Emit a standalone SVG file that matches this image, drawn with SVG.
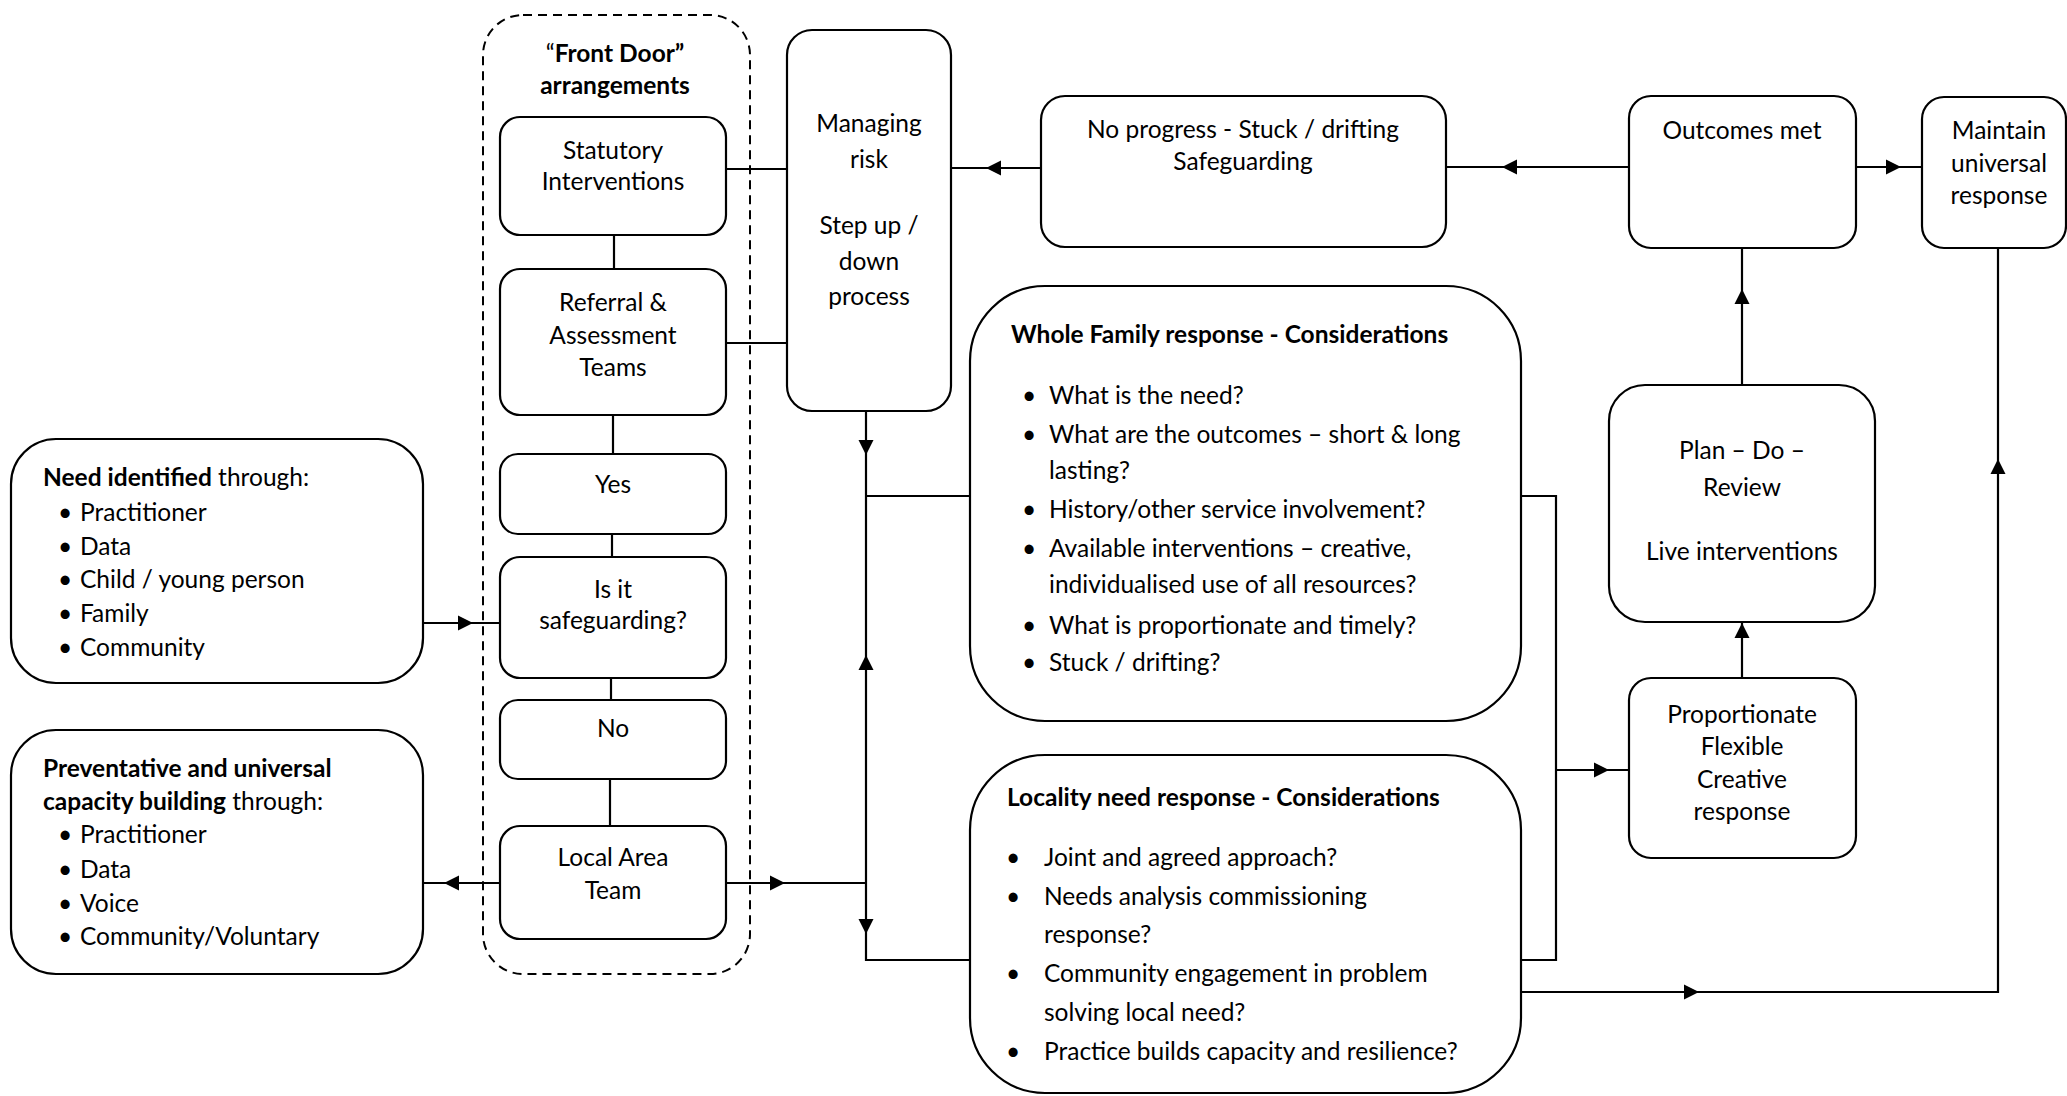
<svg xmlns="http://www.w3.org/2000/svg" xmlns:xlink="http://www.w3.org/1999/xlink" width="2067" height="1096" viewBox="0 0 2067 1096">
<style>
  .box { fill: #ffffff; stroke: #000000; stroke-width: 2.2; }
  .dash { fill: none; stroke: #000000; stroke-width: 2; stroke-dasharray: 9 6; }
  .ln { fill: none; stroke: #000000; stroke-width: 2.2; }
  text { font-family: Lato, "Open Sans", "Liberation Sans", sans-serif; font-size: 24.5px; fill: #000000; }
  .c { text-anchor: middle; }
  .b { font-weight: bold; }
  .n { font-weight: normal; }
</style>
<defs>
  <path id="ah" d="M0,0 L-15,-7.5 L-15,7.5 Z" fill="#000000"/>
</defs>
<rect width="2067" height="1096" fill="#ffffff"/>

<g id="connectors">
  <path class="ln" d="M726,169 H787"/>
  <path class="ln" d="M726,343 H787"/>
  <path class="ln" d="M614,235 V269"/>
  <path class="ln" d="M613,415 V454"/>
  <path class="ln" d="M612,534 V557"/>
  <path class="ln" d="M611,678 V700"/>
  <path class="ln" d="M610,779 V826"/>
  <path class="ln" d="M423,623 H500"/>
  <use xlink:href="#ah" transform="translate(473,623)"/>
  <path class="ln" d="M500,883 H423"/>
  <use xlink:href="#ah" transform="translate(444,883) rotate(180)"/>
  <path class="ln" d="M726,883 H866"/>
  <use xlink:href="#ah" transform="translate(785,883)"/>
  <path class="ln" d="M866,411 V960 H970"/>
  <use xlink:href="#ah" transform="translate(866,455) rotate(90)"/>
  <use xlink:href="#ah" transform="translate(866,655) rotate(-90)"/>
  <use xlink:href="#ah" transform="translate(866,934) rotate(90)"/>
  <path class="ln" d="M866,496 H970"/>
  <path class="ln" d="M1041,168 H951"/>
  <use xlink:href="#ah" transform="translate(986,168) rotate(180)"/>
  <path class="ln" d="M1629,167 H1446"/>
  <use xlink:href="#ah" transform="translate(1502,167) rotate(180)"/>
  <path class="ln" d="M1856,167 H1922"/>
  <use xlink:href="#ah" transform="translate(1901,167)"/>
  <path class="ln" d="M1521,496 H1556 V960 H1521"/>
  <path class="ln" d="M1556,770 H1629"/>
  <use xlink:href="#ah" transform="translate(1609,770)"/>
  <path class="ln" d="M1742,678 V622"/>
  <use xlink:href="#ah" transform="translate(1742,623) rotate(-90)"/>
  <path class="ln" d="M1742,385 V248"/>
  <use xlink:href="#ah" transform="translate(1742,289) rotate(-90)"/>
  <path class="ln" d="M1521,992 H1998 V248"/>
  <use xlink:href="#ah" transform="translate(1699,992)"/>
  <use xlink:href="#ah" transform="translate(1998,459) rotate(-90)"/>
</g>

<g id="front-door">
  <rect class="dash" x="483" y="15" width="267" height="959" rx="40" ry="40"/>
  <text class="c" x="615" y="62"><tspan class="n">“</tspan><tspan class="b">Front Door”</tspan></text>
  <text class="c b" x="615" y="94">arrangements</text>
</g>

<g id="statutory">
  <rect class="box" x="500" y="117" width="226" height="118" rx="20"/>
  <text class="c" x="613" y="159">Statutory</text>
  <text class="c" x="613" y="190">Interventions</text>
</g>

<g id="referral">
  <rect class="box" x="500" y="269" width="226" height="146" rx="20"/>
  <text class="c" x="613" y="311">Referral &amp;</text>
  <text class="c" x="613" y="344">Assessment</text>
  <text class="c" x="613" y="376">Teams</text>
</g>

<g id="yes">
  <rect class="box" x="500" y="454" width="226" height="80" rx="18"/>
  <text class="c" x="613" y="493">Yes</text>
</g>

<g id="is-it-safeguarding">
  <rect class="box" x="500" y="557" width="226" height="121" rx="20"/>
  <text class="c" x="613" y="598">Is it</text>
  <text class="c" x="613" y="629">safeguarding?</text>
</g>

<g id="no">
  <rect class="box" x="500" y="700" width="226" height="79" rx="18"/>
  <text class="c" x="613" y="737">No</text>
</g>

<g id="local-area-team">
  <rect class="box" x="500" y="826" width="226" height="113" rx="20"/>
  <text class="c" x="613" y="866">Local Area</text>
  <text class="c" x="613" y="899">Team</text>
</g>

<g id="managing-risk">
  <rect class="box" x="787" y="30" width="164" height="381" rx="25"/>
  <text class="c" x="869" y="132">Managing</text>
  <text class="c" x="869" y="168">risk</text>
  <text class="c" x="869" y="234">Step up /</text>
  <text class="c" x="869" y="270">down</text>
  <text class="c" x="869" y="305">process</text>
</g>

<g id="no-progress">
  <rect class="box" x="1041" y="96" width="405" height="151" rx="24"/>
  <text class="c" x="1243" y="138">No progress - Stuck / drifting</text>
  <text class="c" x="1243" y="170">Safeguarding</text>
</g>

<g id="outcomes-met">
  <rect class="box" x="1629" y="96" width="227" height="152" rx="22"/>
  <text class="c" x="1742" y="139">Outcomes met</text>
</g>

<g id="maintain-universal">
  <rect class="box" x="1922" y="97" width="144" height="151" rx="22"/>
  <text class="c" x="1999" y="139">Maintain</text>
  <text class="c" x="1999" y="172">universal</text>
  <text class="c" x="1999" y="204">response</text>
</g>

<g id="plan-do-review">
  <rect class="box" x="1609" y="385" width="266" height="237" rx="36"/>
  <text class="c" x="1742" y="459">Plan – Do –</text>
  <text class="c" x="1742" y="496">Review</text>
  <text class="c" x="1742" y="560">Live interventions</text>
</g>

<g id="proportionate">
  <rect class="box" x="1629" y="678" width="227" height="180" rx="22"/>
  <text class="c" x="1742" y="723">Proportionate</text>
  <text class="c" x="1742" y="755">Flexible</text>
  <text class="c" x="1742" y="788">Creative</text>
  <text class="c" x="1742" y="820">response</text>
</g>

<g id="need-identified">
  <rect class="box" x="11" y="439" width="412" height="244" rx="45"/>
  <text x="43" y="486"><tspan class="b">Need identified</tspan> through:</text>
  <text class="c" x="65" y="521">•</text><text x="80" y="521">Practitioner</text>
  <text class="c" x="65" y="555">•</text><text x="80" y="555">Data</text>
  <text class="c" x="65" y="588">•</text><text x="80" y="588">Child / young person</text>
  <text class="c" x="65" y="622">•</text><text x="80" y="622">Family</text>
  <text class="c" x="65" y="656">•</text><text x="80" y="656">Community</text>
</g>

<g id="preventative">
  <rect class="box" x="11" y="730" width="412" height="244" rx="45"/>
  <text class="b" x="43" y="777">Preventative and universal</text>
  <text x="43" y="810"><tspan class="b">capacity building</tspan> through:</text>
  <text class="c" x="65" y="843">•</text><text x="80" y="843">Practitioner</text>
  <text class="c" x="65" y="878">•</text><text x="80" y="878">Data</text>
  <text class="c" x="65" y="912">•</text><text x="80" y="912">Voice</text>
  <text class="c" x="65" y="945">•</text><text x="80" y="945">Community/Voluntary</text>
</g>

<g id="whole-family">
  <rect class="box" x="970" y="286" width="551" height="435" rx="75"/>
  <text class="b" x="1011" y="343">Whole Family response - Considerations</text>
  <text class="c" x="1029" y="404">•</text><text x="1049" y="404">What is the need?</text>
  <text class="c" x="1029" y="443">•</text><text x="1049" y="443">What are the outcomes – short &amp; long</text>
  <text x="1049" y="479">lasting?</text>
  <text class="c" x="1029" y="518">•</text><text x="1049" y="518">History/other service involvement?</text>
  <text class="c" x="1029" y="557">•</text><text x="1049" y="557">Available interventions – creative,</text>
  <text x="1049" y="593">individualised use of all resources?</text>
  <text class="c" x="1029" y="634">•</text><text x="1049" y="634">What is proportionate and timely?</text>
  <text class="c" x="1029" y="671">•</text><text x="1049" y="671">Stuck / drifting?</text>
</g>

<g id="locality-need">
  <rect class="box" x="970" y="755" width="551" height="338" rx="75"/>
  <text class="b" x="1007" y="806">Locality need response - Considerations</text>
  <text class="c" x="1013" y="866">•</text><text x="1044" y="866">Joint and agreed approach?</text>
  <text class="c" x="1013" y="905">•</text><text x="1044" y="905">Needs analysis commissioning</text>
  <text x="1044" y="943">response?</text>
  <text class="c" x="1013" y="982">•</text><text x="1044" y="982">Community engagement in problem</text>
  <text x="1044" y="1021">solving local need?</text>
  <text class="c" x="1013" y="1060">•</text><text x="1044" y="1060">Practice builds capacity and resilience?</text>
</g>
</svg>
